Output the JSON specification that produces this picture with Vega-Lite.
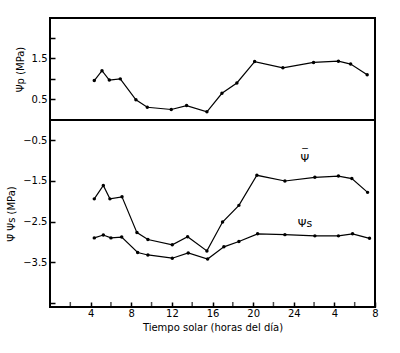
{
  "$schema": "https://vega.github.io/schema/vega-lite/v6.json",
  "padding": {"left": 5, "top": 17, "right": 5, "bottom": 5},
  "spacing": 0,
  "bounds": "flush",
  "config": {
    "font": "DejaVu Sans",
    "view": {"stroke": "black", "strokeWidth": 2},
    "axis": {
      "domain": false,
      "grid": false,
      "labelOverlap": false,
      "tickColor": "black",
      "tickWidth": 1.5,
      "labelColor": "black",
      "titleColor": "black",
      "labelFont": "DejaVu Sans",
      "titleFont": "DejaVu Sans",
      "labelFontSize": 10,
      "titleFontSize": 10,
      "titleFontWeight": "normal"
    }
  },
  "datasets": {
    "pts": [
      {"series": "p", "hour": 4.36, "value": 0.96},
      {"series": "p", "hour": 5.12, "value": 1.2},
      {"series": "p", "hour": 5.84, "value": 0.97},
      {"series": "p", "hour": 6.92, "value": 1.0},
      {"series": "p", "hour": 8.46, "value": 0.49},
      {"series": "p", "hour": 9.58, "value": 0.31},
      {"series": "p", "hour": 11.94, "value": 0.255},
      {"series": "p", "hour": 13.45, "value": 0.35},
      {"series": "p", "hour": 15.45, "value": 0.2},
      {"series": "p", "hour": 16.93, "value": 0.65},
      {"series": "p", "hour": 18.4, "value": 0.9},
      {"series": "p", "hour": 20.15, "value": 1.42},
      {"series": "p", "hour": 22.93, "value": 1.27},
      {"series": "p", "hour": 25.95, "value": 1.4},
      {"series": "p", "hour": 28.4, "value": 1.43},
      {"series": "p", "hour": 29.6, "value": 1.36},
      {"series": "p", "hour": 31.23, "value": 1.1},
      {"series": "bar", "hour": 4.36, "value": -1.94},
      {"series": "bar", "hour": 5.25, "value": -1.61},
      {"series": "bar", "hour": 5.9, "value": -1.94},
      {"series": "bar", "hour": 7.09, "value": -1.89},
      {"series": "bar", "hour": 8.56, "value": -2.77},
      {"series": "bar", "hour": 9.64, "value": -2.94},
      {"series": "bar", "hour": 12.04, "value": -3.07},
      {"series": "bar", "hour": 13.55, "value": -2.87},
      {"series": "bar", "hour": 15.45, "value": -3.22},
      {"series": "bar", "hour": 16.99, "value": -2.51},
      {"series": "bar", "hour": 18.6, "value": -2.1},
      {"series": "bar", "hour": 20.37, "value": -1.36},
      {"series": "bar", "hour": 23.13, "value": -1.5},
      {"series": "bar", "hour": 26.08, "value": -1.41},
      {"series": "bar", "hour": 28.4, "value": -1.38},
      {"series": "bar", "hour": 29.72, "value": -1.44},
      {"series": "bar", "hour": 31.27, "value": -1.78},
      {"series": "s", "hour": 4.36, "value": -2.9},
      {"series": "s", "hour": 5.25, "value": -2.83},
      {"series": "s", "hour": 6.0, "value": -2.9},
      {"series": "s", "hour": 7.06, "value": -2.88},
      {"series": "s", "hour": 8.63, "value": -3.26},
      {"series": "s", "hour": 9.64, "value": -3.32},
      {"series": "s", "hour": 12.04, "value": -3.4},
      {"series": "s", "hour": 13.61, "value": -3.27},
      {"series": "s", "hour": 15.52, "value": -3.42},
      {"series": "s", "hour": 17.12, "value": -3.12},
      {"series": "s", "hour": 18.6, "value": -2.99},
      {"series": "s", "hour": 20.44, "value": -2.8},
      {"series": "s", "hour": 23.13, "value": -2.82},
      {"series": "s", "hour": 26.08, "value": -2.85},
      {"series": "s", "hour": 28.4, "value": -2.85},
      {"series": "s", "hour": 29.79, "value": -2.8},
      {"series": "s", "hour": 31.46, "value": -2.91}
    ],
    "labels": [
      {"hour": 25.1, "value": -0.97, "text": "Ψ"},
      {"hour": 25.1, "value": -2.57, "text": "Ψs"}
    ],
    "bars": [
      {"hour": 25.1, "value": -0.97, "text": "‾"}
    ],
    "minor": [
      {"hour": 2}, {"hour": 6}, {"hour": 10}, {"hour": 14},
      {"hour": 18}, {"hour": 22}, {"hour": 26}, {"hour": 30}
    ]
  },
  "vconcat": [
    {
      "width": 325,
      "height": 102,
      "data": {"name": "pts"},
      "transform": [{"filter": "datum.series === 'p'"}],
      "mark": {"type": "line", "color": "black", "strokeWidth": 1.2, "point": {"filled": true, "color": "black", "size": 12}},
      "encoding": {
        "x": {"field": "hour", "type": "quantitative", "scale": {"domain": [0, 32], "nice": false, "zero": false}, "axis": null},
        "y": {
          "field": "value", "type": "quantitative",
          "scale": {"domain": [0, 2.48], "nice": false},
          "axis": {
            "title": "Ψp (MPa)",
            "values": [0.5, 1.0, 1.5, 2.0],
            "labelOverlap": false,
            "labelExpr": "datum.value == 0.5 || datum.value == 1.5 ? format(datum.value, '.1f') : ''",
            "tickSize": -5,
            "labelPadding": 8,
            "titlePadding": 6
          }
        }
      }
    },
    {
      "width": 325,
      "height": 187,
      "layer": [
        {
          "data": {"name": "pts"},
          "transform": [{"filter": "datum.series !== 'p'"}],
          "mark": {"type": "line", "color": "black", "strokeWidth": 1.2, "point": {"filled": true, "color": "black", "size": 12}},
          "encoding": {
            "x": {
              "field": "hour", "type": "quantitative",
              "scale": {"domain": [0, 32], "nice": false, "zero": false},
              "axis": {
                "title": "Tiempo solar (horas del día)",
                "values": [4, 8, 12, 16, 20, 24, 28, 32],
                "labelOverlap": false,
                "labelFlush": false,
                "labelExpr": "datum.value > 24 ? format(datum.value - 24, 'd') : format(datum.value, 'd')",
                "tickSize": -5,
                "labelPadding": 6,
                "titlePadding": 4
              }
            },
            "y": {
              "field": "value", "type": "quantitative",
              "scale": {"domain": [-4.6, 0], "nice": false, "zero": false},
              "axis": {
                "title": "Ψ̄   Ψs (MPa)",
                "values": [-0.5, -1.0, -1.5, -2.0, -2.5, -3.0, -3.5, -4.0, -4.5],
                "labelOverlap": false,
                "labelExpr": "(datum.value == -0.5 || datum.value == -1.5 || datum.value == -2.5 || datum.value == -3.5) ? format(datum.value, '.1f') : ''",
                "tickSize": -5,
                "labelPadding": 8,
                "titlePadding": 6
              }
            },
            "detail": {"field": "series"}
          }
        },
        {
          "data": {"name": "minor"},
          "mark": {"type": "tick", "orient": "vertical", "color": "black", "thickness": 1.5, "size": 10, "clip": true},
          "encoding": {
            "x": {"field": "hour", "type": "quantitative"},
            "y": {"datum": -4.6}
          }
        },
        {
          "data": {"name": "labels"},
          "mark": {"type": "text", "fontSize": 11, "color": "black", "font": "DejaVu Sans"},
          "encoding": {
            "x": {"field": "hour", "type": "quantitative"},
            "y": {"field": "value", "type": "quantitative"},
            "text": {"field": "text"}
          }
        },
        {
          "data": {"name": "bars"},
          "mark": {"type": "text", "fontSize": 11, "color": "black", "font": "DejaVu Sans", "dy": -6},
          "encoding": {
            "x": {"field": "hour", "type": "quantitative"},
            "y": {"field": "value", "type": "quantitative"},
            "text": {"field": "text"}
          }
        }
      ]
    }
  ]
}
